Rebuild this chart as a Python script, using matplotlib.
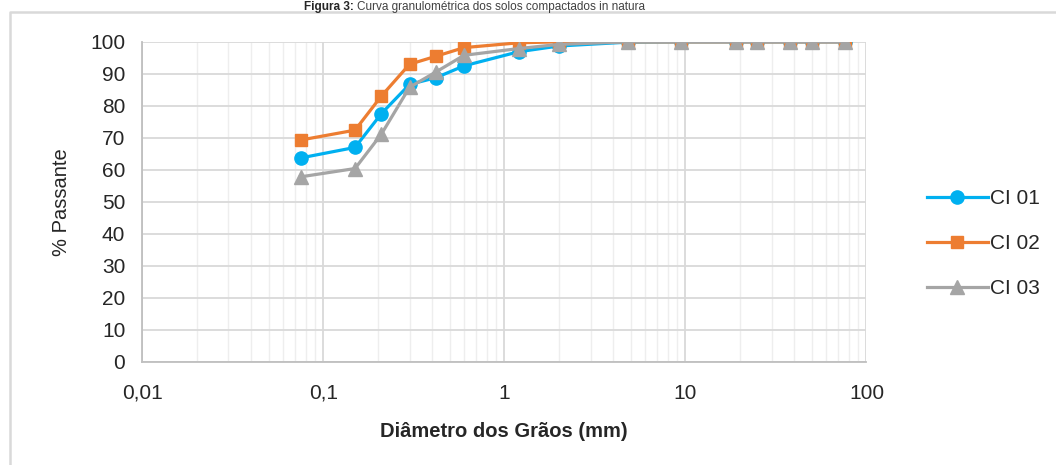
import matplotlib
matplotlib.use("Agg")
from matplotlib import pyplot as plt
from matplotlib.lines import Line2D
from matplotlib.ticker import FuncFormatter, LogLocator, NullFormatter

plt.rcParams["font.family"] = ["Liberation Sans", "DejaVu Sans"]

# peneiras (mm) e % passante de cada amostra
diametros = [0.075, 0.15, 0.21, 0.3, 0.42, 0.6, 1.2, 2.0, 4.8, 9.5, 19, 25, 38, 50, 76]
ci01 = [63.7, 67.0, 77.6, 86.7, 88.8, 92.5, 96.9, 98.7, 99.9, 100, 100, 100, 100, 100, 100]
ci02 = [69.3, 72.4, 83.1, 93.0, 95.5, 98.2, 99.7, 100, 100, 100, 100, 100, 100, 100, 100]
ci03 = [57.8, 60.4, 71.2, 85.8, 90.6, 95.8, 97.9, 99.2, 100, 100, 100, 100, 100, 100, 100]

fig = plt.figure(figsize=(10.56, 4.65), dpi=100)
ax = fig.add_axes([0.1345, 0.222, 0.686, 0.688])

ax.plot(diametros, ci01, color="#00B0F0", lw=2.3, marker="o", ms=9.5, label="CI 01", zorder=3)
ax.plot(diametros, ci02, color="#ED7D31", lw=2.3, marker="s", ms=8.5, label="CI 02", zorder=3)
ax.plot(diametros, ci03, color="#A5A5A5", lw=2.3, marker="^", ms=9.5, label="CI 03", zorder=4)

ax.set_xscale("log")
ax.set_xlim(0.01, 100)
ax.set_ylim(0, 100)
ax.set_yticks(range(0, 101, 10))
ax.xaxis.set_major_locator(LogLocator(base=10, numticks=10))
ax.xaxis.set_minor_locator(LogLocator(base=10, subs=range(2, 10), numticks=100))
ax.xaxis.set_minor_formatter(NullFormatter())
ax.xaxis.set_major_formatter(FuncFormatter(lambda v, p: f"{v:g}".replace(".", ",")))

ax.grid(True, which="major", color="#d9d9d9", lw=1.3)
ax.grid(True, which="minor", axis="x", color="#eeeeee", lw=1.0)
ax.set_axisbelow(True)
for s in ["top", "right"]:
    ax.spines[s].set_visible(False)
for s in ["left", "bottom"]:
    ax.spines[s].set_color("#bfbfbf")
    ax.spines[s].set_linewidth(1.3)
ax.tick_params(which="both", length=0, labelsize=15, pad=12)
ax.tick_params(axis="x", pad=16)
for t in ax.get_xticklabels() + ax.get_yticklabels():
    t.set_color("#262626")

ax.set_ylabel("% Passante", fontsize=14.5, color="#262626", labelpad=14)
ax.set_xlabel("Diâmetro dos Grãos (mm)", fontsize=14.5, fontweight="bold",
              color="#262626", labelpad=14)

ax.legend(loc="center left", bbox_to_anchor=(1.058, 0.37), frameon=False, fontsize=15,
          handlelength=2.9, labelspacing=1.25, handletextpad=0.1, labelcolor="#262626")

# moldura do gráfico e título
fig.add_artist(Line2D([0.0095, 0.0095, 1.0], [0.0, 0.974, 0.974], color="#d9d9d9", lw=1.8))
fig.text(0.335, 0.998, "Figura 3:", ha="right", va="top", fontsize=8.5,
         fontweight="bold", color="#262626")
fig.text(0.338, 0.998, "Curva granulométrica dos solos compactados in natura",
         ha="left", va="top", fontsize=8.5, color="#404040")

fig.savefig("out.png", dpi=100)
